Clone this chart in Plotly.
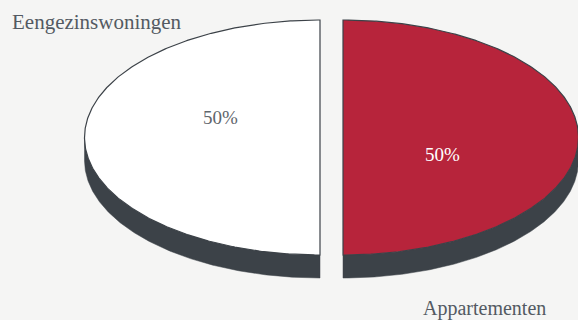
import numpy as np
import plotly.graph_objects as go

# Housing mix shown as a tilted, exploded two-slice pie
categories = ["Eengezinswoningen", "Appartementen"]
shares = [50, 50]

face_colors = ["#ffffff", "#b7243b"]
label_colors = ["#5f666c", "#ffffff"]
side_color = "#3c4248"
edge_color = "#3c4248"
bg_color = "#f5f5f4"

W, H = 578, 320
cx, cy = 331.5, 137.5      # pie centre in canvas units
rx, ry = 235.5, 117.5      # ellipse radii of the tilted top face
depth = 23                 # thickness of the rim
explode = 11.5             # how far each slice is pulled out
start_deg = 90             # first slice starts at 12 o'clock, counter-clockwise


def rim_point(theta_deg, ox, oy, dy=0.0):
    t = np.radians(theta_deg)
    return cx + ox + rx * np.cos(t), cy + oy - ry * np.sin(t) + dy


fig = go.Figure()
total = float(sum(shares))

geom = []
angle = start_deg
for name, v, col in zip(categories, shares, face_colors):
    sweep = 360.0 * v / total
    a0, a1 = angle, angle + sweep
    mid = np.radians((a0 + a1) / 2)
    ox = explode * np.cos(mid)
    oy = -explode * np.sin(mid) * ry / rx
    geom.append((name, v, col, a0, a1, ox, oy))
    angle = a1

# rim (side) of every slice first, only the front-facing part
for name, v, col, a0, a1, ox, oy in geom:
    th = np.linspace(a0, a1, 400)
    front = th[np.sin(np.radians(th)) <= 1e-9]
    if front.size < 2:
        continue
    tx, ty = rim_point(front, ox, oy)
    bx, by = rim_point(front[::-1], ox, oy, depth)
    fig.add_trace(go.Scatter(
        x=np.concatenate([tx, bx, tx[:1]]),
        y=np.concatenate([ty, by, ty[:1]]),
        mode="lines", fill="toself", fillcolor=side_color,
        line=dict(color=side_color, width=0.5),
        hoverinfo="skip", showlegend=False,
    ))

# top faces
for name, v, col, a0, a1, ox, oy in geom:
    th = np.linspace(a0, a1, 400)
    ax_, ay_ = rim_point(th, ox, oy)
    fig.add_trace(go.Scatter(
        x=np.concatenate([[cx + ox], ax_, [cx + ox]]),
        y=np.concatenate([[cy + oy], ay_, [cy + oy]]),
        mode="lines", fill="toself", fillcolor=col,
        line=dict(color=edge_color, width=1.2),
        name=name, hoverinfo="skip", showlegend=False,
    ))

serif = "Liberation Serif, Times New Roman, serif"
annotations = []

# percentage labels inside the slices
pct_pos = [(220, 117), (442, 154)]
for (name, v, col, a0, a1, ox, oy), (px, py), tc in zip(geom, pct_pos, label_colors):
    annotations.append(dict(
        x=px, y=py, xref="x", yref="y", showarrow=False,
        text=f"{v / total * 100:.0f}%",
        font=dict(family=serif, size=19, color=tc),
    ))

# category names
annotations.append(dict(
    x=10, y=22, xref="x", yref="y", xanchor="left", showarrow=False,
    text=categories[0], font=dict(family=serif, size=21, color="#535a62"),
))
annotations.append(dict(
    x=548, y=308, xref="x", yref="y", xanchor="right", showarrow=False,
    text=categories[1], font=dict(family=serif, size=20, color="#535a62"),
))

fig.update_layout(
    width=W, height=H,
    margin=dict(l=0, r=0, t=0, b=0),
    paper_bgcolor=bg_color, plot_bgcolor=bg_color,
    xaxis=dict(range=[0, W], visible=False, fixedrange=True),
    yaxis=dict(range=[H, 0], visible=False, fixedrange=True),
    annotations=annotations,
)

fig.write_html("out.html")
